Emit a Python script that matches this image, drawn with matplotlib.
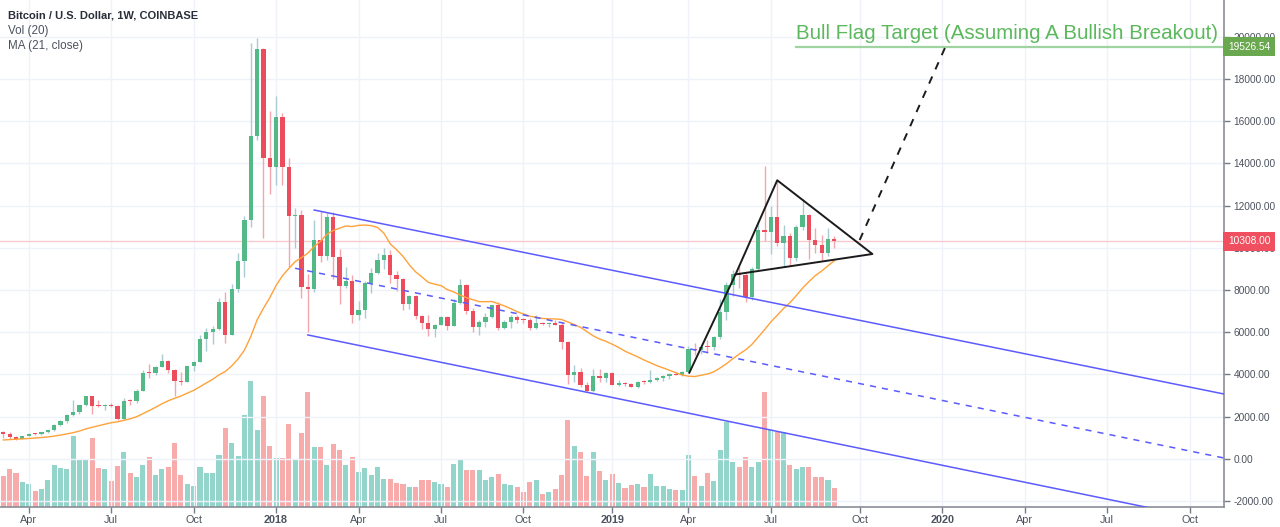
import numpy as np
import pandas as pd
import matplotlib
matplotlib.use("Agg")
import matplotlib.pyplot as plt
import matplotlib.dates as mdates
import matplotlib.transforms as mtrans

plt.rcParams["font.family"] = ["Liberation Sans", "DejaVu Sans"]

# ---------------- data (weekly candles, Coinbase BTC/USD) ----------------
first_week = "2017-03-06"
opens = [1260, 1180, 1010, 960, 1090, 1190, 1170, 1250, 1360, 1600, 1790, 2070, 2230, 2530, 2960, 2520, 2500,
         2520, 2500, 1900, 2750, 2720, 3230, 4080, 4050, 4360, 4630, 4210, 3700, 3660, 4400, 4600, 5700, 5990,
         6140, 7410, 5870, 8030, 9390, 11300, 15300, 19400, 14250,
         13850, 16180, 13820, 11500, 11560, 8150, 8070, 10370, 9610, 11470, 9550, 8200, 8450, 6830, 7050, 8350,
         8800, 9400, 9650, 8700, 8500, 7350, 7700, 6770, 6450, 6150, 6350, 6710, 6310, 7400, 8240, 7010, 6260,
         6470, 6710, 7290, 6190, 6500, 6710, 6600, 6560, 6180, 6420, 6390, 6420, 6350, 5550, 3950, 4100, 3520,
         3200, 3940, 3840,
         4060, 3500, 3580, 3530, 3400, 3650, 3620, 3740, 3820, 3920, 4020, 3990, 4120, 5200, 5140, 5300, 5280,
         5750, 6970, 8230, 8740, 8720, 7650, 8980, 10840, 10760, 11470, 10210, 10560, 9500, 10970, 11550, 10370,
         10130, 9770, 10400]
highs = [1330, 1260, 1080, 1100, 1210, 1220, 1270, 1380, 1640, 1850, 2120, 2800, 2560, 2990, 2980, 2790, 2600,
         2650, 2560, 2900, 2830, 3300, 4200, 4480, 4400, 4980, 4700, 4260, 4100, 4420, 4650, 5860, 6200, 6300,
         7600, 7890, 8300, 9770, 11500, 19700, 19930, 19450, 16480,
         17200, 16400, 14270, 11890, 11800, 8750, 11300, 11760, 11650, 11700, 9950, 9100, 8700, 7500, 8430, 9050,
         9750, 9990, 9900, 8880, 8550, 7770, 7760, 6800, 6830, 6400, 6780, 6760, 7550, 8500, 8280, 7150, 6600,
         6900, 7300, 7410, 6570, 6820, 6800, 6680, 6680, 6800, 6500, 6480, 6580, 6500, 5600, 4450, 4300, 3620,
         4250, 4250, 4100,
         4100, 3750, 3650, 3600, 3700, 3720, 4200, 3900, 3950, 4050, 4100, 4150, 5350, 5470, 5350, 5650, 5800,
         7550, 8400, 8950, 9080, 8800, 9080, 11250, 13880, 12000, 13180, 11100, 10680, 11080, 12300, 11600,
         10950, 10630, 10920, 10560]
lows = [1000, 940, 890, 930, 1060, 1110, 1150, 1220, 1340, 1560, 1720, 2030, 2100, 2480, 2100, 2470, 2300,
        2450, 1840, 1850, 2550, 2650, 3200, 3820, 3960, 4330, 4050, 2980, 3500, 3650, 4150, 4570, 5100, 5450,
        6100, 5500, 5850, 7900, 8630, 11000, 15100, 10450, 12550,
        12980, 12980, 9100, 10000, 7600, 6000, 7900, 9340, 9400, 8500, 7330, 8100, 6450, 6580, 6650, 7850,
        8750, 8990, 8350, 7950, 7050, 7100, 6620, 6130, 5800, 5750, 6330, 6090, 6300, 7350, 6880, 5990, 5850,
        6260, 6660, 6100, 6130, 6180, 6450, 6450, 6100, 6150, 6360, 6260, 6320, 5220, 3530, 3650, 3400, 3150,
        3180, 3650, 3650,
        3490, 3450, 3470, 3380, 3350, 3560, 3600, 3700, 3670, 3800, 3950, 3940, 4100, 4930, 4980, 5000, 5180,
        5700, 6600, 7700, 8100, 7450, 7510, 8950, 10300, 9700, 10090, 9100, 9160, 9380, 10850, 9450,
        9750, 9380, 9600, 9980]
closes = [1180, 1010, 960, 1090, 1190, 1170, 1250, 1360, 1600, 1790, 2070, 2230, 2530, 2960, 2520, 2500, 2520,
          2500, 1900, 2750, 2720, 3230, 4080, 4050, 4360, 4630, 4210, 3700, 3660, 4400, 4600, 5700, 5990, 6140,
          7410, 5870, 8030, 9390, 11300, 15300, 19400, 14250, 13850,
          16180, 13820, 11500, 11560, 8150, 8070, 10370, 9610, 11470, 9550, 8200, 8450, 6830, 7050, 8350, 8800,
          9400, 9650, 8700, 8500, 7350, 7700, 6770, 6450, 6150, 6350, 6710, 6310, 7400, 8240, 7010, 6260, 6470,
          6710, 7290, 6190, 6500, 6710, 6600, 6560, 6180, 6420, 6390, 6420, 6350, 5550, 3950, 4100, 3520, 3200,
          3940, 3840, 4060,
          3500, 3580, 3530, 3400, 3650, 3620, 3740, 3820, 3920, 4020, 3990, 4120, 5200, 5140, 5300, 5280, 5750,
          6970, 8230, 8740, 8720, 7650, 8980, 10840, 10760, 11470, 10210, 10560, 9500, 10970, 11550, 10370,
          10130, 9770, 10400, 10308]
volumes = [94, 113, 101, 76, 70, 49, 54, 81, 127, 116, 113, 214, 140, 140, 207, 116, 113,
           79, 124, 166, 103, 89, 127, 151, 95, 113, 121, 192, 95, 70, 63, 121, 103, 103,
           156, 237, 193, 154, 275, 379, 231, 334, 183,
           146, 146, 248, 140, 223, 344, 181, 181, 127, 189, 172, 127, 151, 106, 118, 97,
           121, 83, 83, 73, 70, 59, 59, 82, 80, 75, 70, 60, 130, 140, 110, 110, 110,
           80, 90, 100, 70, 65, 60, 45, 75, 80, 40, 45, 55, 97, 262, 182, 164, 94,
           164, 108, 81,
           99, 73, 56, 66, 69, 59, 99, 62, 62, 54, 51, 51, 156, 92, 62, 102, 78,
           172, 254, 134, 119, 149, 119, 134, 344, 230, 224, 224, 125, 113, 119, 119,
           89, 89, 80, 56]
# closes of the 20 weeks before the first visible candle (needed by the 21-week MA)
prior_closes = [655, 700, 705, 700, 740, 730, 765, 775, 790, 900, 1000, 905, 820, 920, 920, 1020, 1000,
                1050, 1190, 1270]
last_price = 10308.00
target_price = 19526.54

# drawings (anchor dates / prices)
upper_dates, upper_prices = ["2018-02-12", "2020-11-12"], [11790, 3071]
mid_dates, mid_prices = ["2018-01-22", "2020-11-12"], [9030, 38]
lower_dates, lower_prices = ["2018-02-05", "2020-11-12"], [5870, -3049]
flag_dates = ["2019-04-02", "2019-05-23", "2019-07-08", "2019-10-21", "2019-05-23"]
flag_prices = [4080, 8740, 13200, 9706, 8740]
proj_dates, proj_prices = ["2019-10-07", "2020-01-11"], [10370, 19660]
target_start = "2019-07-29"
target_text = "Bull Flag Target (Assuming A Bullish Breakout)"

tick_dates = ["2017-04-03", "2017-07-03", "2017-10-02", "2018-01-01", "2018-04-02", "2018-07-02",
              "2018-10-01", "2019-01-07", "2019-04-01", "2019-07-01", "2019-10-07", "2020-01-06",
              "2020-04-06", "2020-07-06", "2020-10-05"]
tick_labels = ["Apr", "Jul", "Oct", "2018", "Apr", "Jul", "Oct", "2019", "Apr", "Jul", "Oct", "2020",
               "Apr", "Jul", "Oct"]
price_ticks = list(range(-2000, 20001, 2000))

# ---------------- styles ----------------
UP, DN = "#53b987", "#eb4d5c"
UP_WICK, DN_WICK = "#a9cbd2", "#f4a5ad"
VUP, VDN = "#93d4cb", "#f8abab"
GRID = "#eff2f8"
BLUE = "#5b5bff"
W, H = 1280, 527
PLOT_R, PLOT_B = 1224, 507
YLO, YHI = -2284, 21744
VOL_TOP = 1521
AX_FS = 7.3

fig = plt.figure(figsize=(W / 100, H / 100), dpi=100)
rect = [0, (H - PLOT_B) / H, PLOT_R / W, PLOT_B / H]
vax = fig.add_axes(rect)
ax = fig.add_axes(rect, sharex=vax)
vax.set_zorder(1)
ax.set_zorder(2)
ax.patch.set_alpha(0)

dates = pd.date_range(first_week, periods=len(closes), freq="7D")
prior_dates = pd.date_range(end=dates[0] - pd.Timedelta(days=7), periods=len(prior_closes), freq="7D")
all_close = pd.Series(prior_closes + closes, index=prior_dates.append(dates))
ma = all_close.rolling(21).mean().dropna()

x = mdates.date2num(dates)
o, h, l, c, v = map(np.array, (opens, highs, lows, closes, volumes))
up = c >= o

# volume
vax.bar(x, v, width=5.6, color=np.where(up, VUP, VDN), linewidth=0)
vax.set_ylim(0, VOL_TOP)
vax.set_yticks([(p - YLO) / (YHI - YLO) * VOL_TOP for p in price_ticks])
vax.grid(True, color=GRID, lw=1)
vax.tick_params(left=False, labelleft=False, bottom=False, labelbottom=False)
for s in vax.spines.values():
    s.set_visible(False)

# candles
ax.vlines(x[up], l[up], h[up], color=UP_WICK, lw=1, zorder=3)
ax.vlines(x[~up], l[~up], h[~up], color=DN_WICK, lw=1, zorder=3)
bb = np.minimum(o, c)
bh = np.maximum(np.abs(c - o), 45)
ax.bar(x[up], bh[up], bottom=bb[up], width=4.7, color=UP, linewidth=0, zorder=4)
ax.bar(x[~up], bh[~up], bottom=bb[~up], width=4.7, color=DN, linewidth=0, zorder=4)

# MA
ax.plot(mdates.date2num(ma.index), ma.values, color="#ffa23a", lw=1.0, zorder=5)

# horizontal price lines
ax.axhline(last_price, color="#f8c9ce", lw=1, zorder=2)
d2n = lambda ds: mdates.date2num(pd.to_datetime(ds))
ax.plot([d2n([target_start])[0], d2n(["2021-06-01"])[0]], [target_price, target_price],
        color="#9fd39f", lw=1.6, zorder=5)

# channel
ax.plot(d2n(upper_dates), upper_prices, color=BLUE, lw=1.1, zorder=6)
ax.plot(d2n(lower_dates), lower_prices, color=BLUE, lw=1.1, zorder=6)
ax.plot(d2n(mid_dates), mid_prices, color=BLUE, lw=1.1, ls=(0, (4, 4)), zorder=6)

# flag + projection
ax.plot(d2n(flag_dates), flag_prices, color="#1b1b1b", lw=1.4, zorder=7)
ax.plot(d2n(proj_dates), proj_prices, color="#1b1b1b", lw=1.4, ls=(0, (4, 4)), zorder=7)

ax.text(d2n([target_start])[0], 20180, target_text, color="#5cb85c", fontsize=14.8,
        va="center", ha="left", zorder=8)

# axes
base = mdates.date2num(pd.Timestamp("2018-01-01"))
ax.set_xlim(base - 276.1 / 0.9062, base + (PLOT_R - 276.1) / 0.9062)
ax.set_ylim(YLO, YHI)
ax.set_xticks(d2n(tick_dates))
ax.set_xticklabels(tick_labels)
for t, lab in zip(ax.get_xticklabels(), tick_labels):
    if lab.isdigit():
        t.set_fontweight("bold")
ax.yaxis.tick_right()
ax.set_yticks(price_ticks)
ax.set_yticklabels([f"{p:.2f}" for p in price_ticks])
ax.tick_params(axis="y", right=True, length=4, width=1, color="#787b86", labelcolor="#4c525e",
               labelsize=AX_FS, pad=3)
ax.tick_params(axis="x", length=4, width=1, color="#787b86", labelcolor="#4c525e", labelsize=7.8, pad=1.5)
for side in ("top", "left"):
    ax.spines[side].set_visible(False)
for side in ("right", "bottom"):
    ax.spines[side].set_color("#8a8d96")
    ax.spines[side].set_linewidth(1.2)

# right price labels
bt = mtrans.blended_transform_factory(ax.transAxes, ax.transData)
for price, col in ((target_price, "#6aa84f"), (last_price, "#ef4f5e")):
    ax.text(1.0 + 4 / PLOT_R, price, f"{price:.2f}", transform=bt, color="white", fontsize=AX_FS,
            va="center", ha="left", zorder=10, clip_on=False,
            bbox=dict(boxstyle="square,pad=0.45", fc=col, ec="none"))

# legend texts
fig.text(8 / W, 1 - 15 / H, "Bitcoin / U.S. Dollar, 1W, COINBASE", fontsize=8, fontweight="bold",
         color="#2a2e39", va="center", ha="left")
fig.text(8 / W, 1 - 31 / H, "Vol (20)", fontsize=8.4, color="#4c525e", va="center", ha="left")
fig.text(8 / W, 1 - 46 / H, "MA (21, close)", fontsize=8.4, color="#4c525e", va="center", ha="left")

fig.savefig("out.png", dpi=100)
